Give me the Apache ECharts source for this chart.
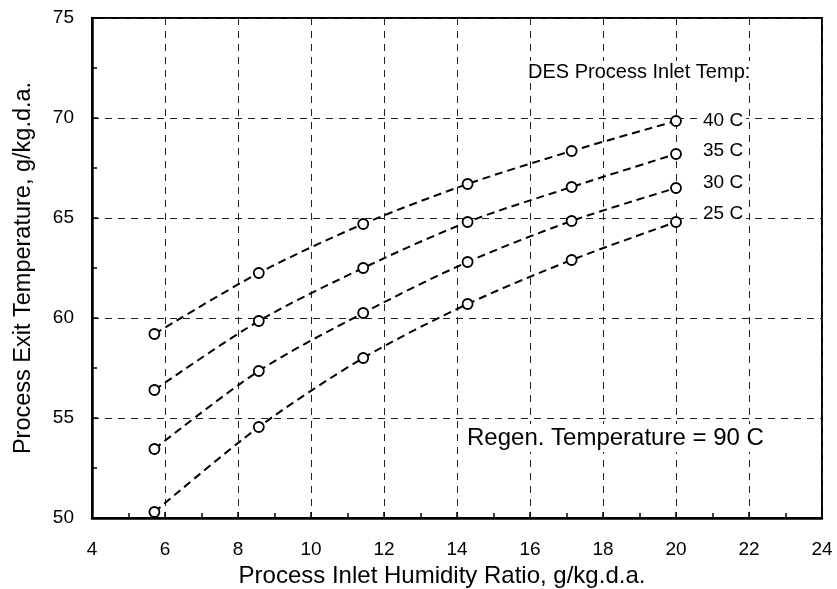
<!DOCTYPE html>
<html>
<head>
<meta charset="utf-8">
<script src="https://cdn.jsdelivr.net/npm/echarts@6/dist/echarts.min.js"></script>
<style>
html,body{margin:0;padding:0;background:#fff;}
#chart{width:837px;height:589px;}
</style>
</head>
<body>
<div id="chart"></div>
<script>
// Data
const humidity = [5.71, 8.57, 11.43, 14.29, 17.14, 20.0];
const seriesNames = ['40 C', '35 C', '30 C', '25 C'];
const temp40 = [59.2, 62.25, 64.7, 66.7, 68.35, 69.85];
const temp35 = [56.4, 59.85, 62.5, 64.8, 66.55, 68.2];
const temp30 = [53.45, 57.35, 60.25, 62.8, 64.85, 66.5];
const temp25 = [50.3, 54.55, 58.0, 60.7, 62.9, 64.8];
const xTitle = 'Process Inlet Humidity Ratio, g/kg.d.a.';
const yTitle = 'Process Exit Temperature, g/kg.d.a.';
const legendTitle = 'DES Process Inlet Temp:';
const noteText = 'Regen. Temperature = 90 C';

const allValues = [temp40, temp35, temp30, temp25];
const labelOffsets = [[0, 0], [0, -3], [0, -5], [0, -8]];
const FONT = '"Liberation Sans", Arial, Helvetica, sans-serif';

const chart = echarts.init(document.getElementById('chart'), null, {renderer: 'canvas'});

const series = allValues.map((vals, i) => ({
  name: seriesNames[i],
  type: 'line',
  data: humidity.map((x, j) => [x, vals[j]]),
  smooth: 0.3,
  symbol: 'circle',
  symbolSize: 10,
  showSymbol: true,
  itemStyle: {color: '#fff', borderColor: '#000', borderWidth: 1.8},
  lineStyle: {color: '#000', width: 2, type: [8, 5]},
  endLabel: {
    show: true,
    formatter: seriesNames[i],
    distance: 24,
    offset: labelOffsets[i],
    color: '#000',
    fontSize: 19,
    fontFamily: FONT,
    backgroundColor: '#fff',
    padding: [0, 3, 0, 3]
  },
  z: 5,
  animation: false
}));

const option = {
  animation: false,
  backgroundColor: '#fff',
  grid: {left: 92, right: 15, top: 18, bottom: 71, containLabel: false, outerBoundsMode: 'none',
         show: true, borderColor: '#000', borderWidth: 2, backgroundColor: 'transparent'},
  xAxis: {
    type: 'value',
    min: 4, max: 24, interval: 2,
    name: xTitle,
    nameLocation: 'middle',
    nameGap: 40,
    nameTextStyle: {fontSize: 24, color: '#000', fontFamily: FONT, padding: [0, 30, 0, 0]},
    axisLine: {show: true, onZero: false, lineStyle: {color: '#000', width: 2.5}},
    axisTick: {show: true, inside: true, length: 6, lineStyle: {color: '#000', width: 1.5}},
    minorTick: {show: true, splitNumber: 2, length: 5, lineStyle: {color: '#000', width: 1.5}},
    axisLabel: {fontSize: 19, color: '#000', margin: 22, fontFamily: FONT},
    splitLine: {show: true, lineStyle: {color: '#222', width: 1, type: [7, 6]}}
  },
  yAxis: {
    type: 'value',
    min: 50, max: 75, interval: 5,
    name: yTitle,
    nameLocation: 'middle',
    nameGap: 56,
    nameTextStyle: {fontSize: 23.5, color: '#000', fontFamily: FONT},
    axisLine: {show: true, onZero: false, lineStyle: {color: '#000', width: 2.5}},
    axisTick: {show: true, inside: true, length: 6, lineStyle: {color: '#000', width: 1.5}},
    minorTick: {show: true, splitNumber: 2, length: 5, lineStyle: {color: '#000', width: 1.5}},
    axisLabel: {fontSize: 19, color: '#000', margin: 18, fontFamily: FONT},
    splitLine: {show: true, lineStyle: {color: '#222', width: 1, type: [7, 6]}}
  },
  graphic: [
    {type: 'text', left: 526, top: 61, z: 10,
     style: {text: legendTitle, fontSize: 20, fill: '#000', fontFamily: FONT, backgroundColor: '#fff', padding: [1, 2, 1, 2]}},
    {type: 'text', left: 465, top: 424, z: 10,
     style: {text: noteText, fontSize: 24, fill: '#000', fontFamily: FONT, backgroundColor: '#fff', padding: [2, 4, 2, 2]}}
  ],
  series: series
};
chart.setOption(option);
</script>
</body>
</html>
